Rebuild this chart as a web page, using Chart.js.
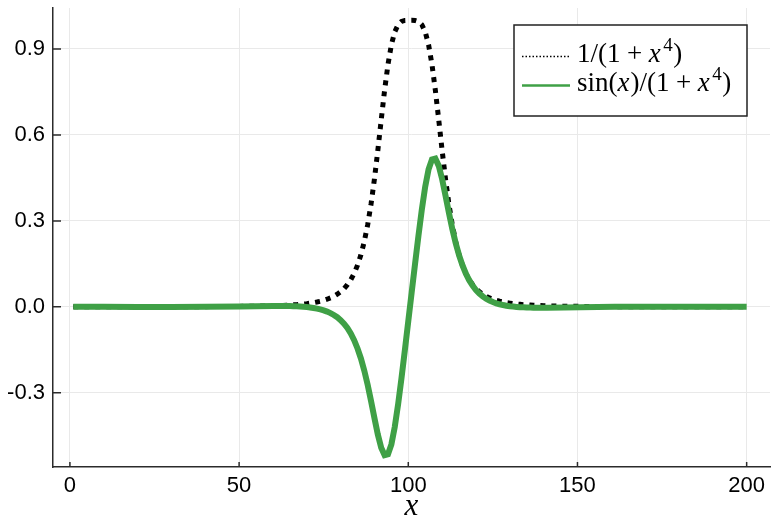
<!DOCTYPE html>
<html>
<head>
<meta charset="utf-8">
<script src="https://cdn.jsdelivr.net/npm/chart.js@4"></script>
<style>
  html, body { margin: 0; padding: 0; background: #fff; }
  #wrap { width: 784px; height: 532px; }
</style>
</head>
<body>
<div id="wrap"><canvas id="plot" width="784" height="532"></canvas></div>
<script>
// sample index along the x axis
const xIndex = [1, 10, 20, 30, 40, 50, 55,
  60, 61, 62, 63, 64, 65, 66, 67, 68, 69,
  70, 71, 72, 73, 74, 75, 76, 77, 78, 79,
  80, 81, 82, 83, 84, 85, 86, 87, 88, 89,
  90, 91, 92, 93, 94, 95, 96, 97, 98, 99,
  100, 101, 102, 103, 104, 105, 106, 107, 108, 109,
  110, 111, 112, 113, 114, 115, 116, 117, 118, 119,
  120, 121, 122, 123, 124, 125, 126, 127, 128, 129,
  130, 131, 132, 133, 134, 135, 136, 137, 138, 139,
  140, 141, 146, 151, 161, 171, 181, 191, 200];

// 1/(1+x^4)
const invQuart = [0.0001, 0.0001, 0.0002, 0.0004, 0.0007, 0.0015, 0.0023,
  0.0036, 0.0040, 0.0044, 0.0049, 0.0055, 0.0061, 0.0069, 0.0077, 0.0087, 0.0099,
  0.0112, 0.0128, 0.0146, 0.0169, 0.0195, 0.0227, 0.0265, 0.0311, 0.0368, 0.0439,
  0.0526, 0.0635, 0.0772, 0.0946, 0.1168, 0.1452, 0.1815, 0.2279, 0.2865, 0.3591,
  0.4464, 0.5462, 0.6525, 0.7560, 0.8459, 0.9146, 0.9598, 0.9849, 0.9960, 0.9995,
  1.0000, 1.0000, 0.9995, 0.9960, 0.9849, 0.9598, 0.9146, 0.8459, 0.7560, 0.6525,
  0.5462, 0.4464, 0.3591, 0.2865, 0.2279, 0.1815, 0.1452, 0.1168, 0.0946, 0.0772,
  0.0635, 0.0526, 0.0439, 0.0368, 0.0311, 0.0265, 0.0227, 0.0195, 0.0169, 0.0146,
  0.0128, 0.0112, 0.0099, 0.0087, 0.0077, 0.0069, 0.0061, 0.0055, 0.0049, 0.0044,
  0.0040, 0.0036, 0.0023, 0.0015, 0.0007, 0.0004, 0.0002, 0.0001, 0.0001];

// sin(x)/(1+x^4)
const sinInvQuart = [0.0001, 0.0000, -0.0002, -0.0003, 0.0001, 0.0014, 0.0023,
  0.0029, 0.0030, 0.0030, 0.0029, 0.0028, 0.0025, 0.0022, 0.0017, 0.0011, 0.0002,
  -0.0009, -0.0022, -0.0040, -0.0062, -0.0090, -0.0124, -0.0166, -0.0219, -0.0284, -0.0364,
  -0.0464, -0.0587, -0.0740, -0.0930, -0.1164, -0.1452, -0.1803, -0.2227, -0.2724, -0.3287,
  -0.3884, -0.4458, -0.4920, -0.5174, -0.5142, -0.4802, -0.4195, -0.3394, -0.2476, -0.1501,
  -0.0502, 0.0502, 0.1501, 0.2476, 0.3394, 0.4195, 0.4802, 0.5142, 0.5174, 0.4920,
  0.4458, 0.3884, 0.3287, 0.2724, 0.2227, 0.1803, 0.1452, 0.1164, 0.0930, 0.0740,
  0.0587, 0.0464, 0.0364, 0.0284, 0.0219, 0.0166, 0.0124, 0.0090, 0.0062, 0.0040,
  0.0022, 0.0009, -0.0002, -0.0011, -0.0017, -0.0022, -0.0025, -0.0028, -0.0029, -0.0030,
  -0.0030, -0.0029, -0.0023, -0.0014, -0.0001, 0.0003, 0.0002, 0.0000, -0.0001];

const seriesNames = ["1/(1+x^4)", "sin(x)/(1+x^4)"];
const xTicks = [0, 50, 100, 150, 200];
const yTicks = [-0.3, 0.0, 0.3, 0.6, 0.9];
const xTitle = "x";

const AXIS_COLOR = "#2b2b2b";
const GREEN = "#3fa046";
const MATH_FONT = '"Liberation Serif", "DejaVu Serif", serif';

function pts(ys) {
  return xIndex.map((x, i) => ({ x: x, y: ys[i] }));
}

// draws a tiny math label: italic x, ^ superscript, spaced +
function drawMath(ctx, s, x, y, size) {
  let i = 0;
  while (i < s.length) {
    const c = s[i];
    if (c === "^") {
      ctx.font = Math.round(size * 0.7) + "px " + MATH_FONT;
      ctx.fillText(s[i + 1], x + 1.5, y - size * 0.38);
      x += ctx.measureText(s[i + 1]).width + 2;
      i += 2;
      continue;
    }
    if (c === "+") {
      x += size * 0.24;
      ctx.font = size + "px " + MATH_FONT;
      ctx.fillText("+", x, y);
      x += ctx.measureText("+").width + size * 0.24;
      i++;
      continue;
    }
    ctx.font = (c === "x" ? "italic " : "") + size + "px " + MATH_FONT;
    ctx.fillText(c, x, y);
    x += ctx.measureText(c).width + (c === "x" ? 1 : 0);
    i++;
  }
}

const innerTicks = {
  id: "innerTicks",
  afterDraw(chart) {
    const { ctx, chartArea: a, scales: { x, y } } = chart;
    ctx.save();
    ctx.strokeStyle = AXIS_COLOR;
    ctx.lineWidth = 1.5;
    ctx.beginPath();
    xTicks.forEach(v => {
      const p = x.getPixelForValue(v);
      ctx.moveTo(p, a.bottom);
      ctx.lineTo(p, a.bottom - 5);
    });
    yTicks.forEach(v => {
      const p = y.getPixelForValue(v);
      ctx.moveTo(a.left, p);
      ctx.lineTo(a.left + 8, p);
    });
    ctx.stroke();
    ctx.restore();
  }
};

const boxLegend = {
  id: "boxLegend",
  afterDraw(chart) {
    const ctx = chart.ctx;
    const a = chart.chartArea;
    const bx = a.right - 256, by = a.top + 17, bw = 233, bh = 91;
    ctx.save();
    ctx.fillStyle = "#fff";
    ctx.fillRect(bx, by, bw, bh);
    ctx.strokeStyle = "#222";
    ctx.lineWidth = 1.5;
    ctx.strokeRect(bx, by, bw, bh);

    const rows = [by + 31.5, by + 60.5];
    chart.data.datasets.forEach((ds, i) => {
      const ly = rows[i];
      ctx.beginPath();
      ctx.strokeStyle = ds.borderColor;
      if (i === 0) { ctx.lineWidth = 1.5; ctx.setLineDash([1.5, 2]); }
      else { ctx.lineWidth = 2.5; ctx.setLineDash([]); }
      ctx.moveTo(bx + 8, ly);
      ctx.lineTo(bx + 56, ly);
      ctx.stroke();
      ctx.setLineDash([]);
      ctx.fillStyle = "#000";
      ctx.textBaseline = "alphabetic";
      drawMath(ctx, ds.label, bx + 63, ly + 5, 27);
    });
    ctx.restore();
  }
};

new Chart(document.getElementById("plot"), {
  type: "line",
  data: {
    datasets: [
      {
        label: seriesNames[0],
        data: pts(invQuart),
        borderColor: "#000",
        borderWidth: 5,
        borderDash: [5, 6],
        pointRadius: 0,
        order: 1
      },
      {
        label: seriesNames[1],
        data: pts(sinInvQuart),
        borderColor: GREEN,
        borderWidth: 6,
        pointRadius: 0,
        order: 0
      }
    ]
  },
  options: {
    responsive: false,
    animation: false,
    layout: { padding: { left: 0, right: 14, top: 8, bottom: 0 } },
    plugins: { legend: { display: false }, tooltip: { enabled: false } },
    scales: {
      x: {
        type: "linear",
        min: -5.0,
        max: 206.9,
        afterBuildTicks: s => { s.ticks = xTicks.map(v => ({ value: v })); },
        afterFit: s => { s.height = 65; s.paddingLeft = 0; s.paddingRight = 0; },
        grid: { color: "#e9e9e9", lineWidth: 1, drawTicks: false },
        border: { display: true, color: AXIS_COLOR, width: 1.5 },
        ticks: {
          padding: 6,
          color: "#000",
          maxRotation: 0,
          font: { family: '"Liberation Sans", Arial, sans-serif', size: 22 },
          callback: v => String(v)
        },
        title: {
          display: true,
          text: xTitle,
          color: "#000",
          padding: { top: 0, bottom: 7 },
          font: { family: MATH_FONT, style: "italic", size: 31 }
        }
      },
      y: {
        type: "linear",
        min: -0.559,
        max: 1.043,
        afterBuildTicks: s => { s.ticks = yTicks.map(v => ({ value: v })); },
        afterFit: s => { s.width = 53; s.paddingTop = 0; s.paddingBottom = 0; },
        grid: { color: "#e9e9e9", lineWidth: 1, drawTicks: false },
        border: { display: true, color: AXIS_COLOR, width: 1.5 },
        ticks: {
          padding: 8,
          color: "#000",
          font: { family: '"Liberation Sans", Arial, sans-serif', size: 22 },
          callback: v => v.toFixed(1)
        }
      }
    }
  },
  plugins: [innerTicks, boxLegend]
});
</script>
</body>
</html>
